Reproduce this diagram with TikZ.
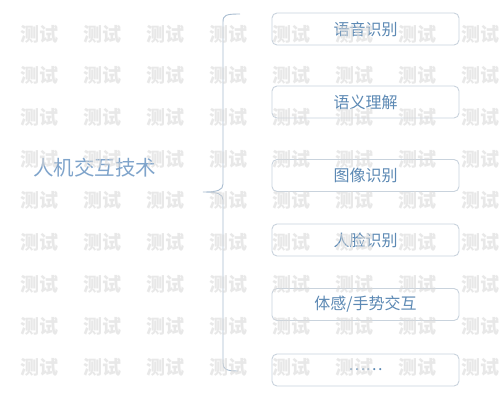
\documentclass[tikz,border=0pt]{standalone}
\usepackage{fontspec}
\setmainfont{Noto Sans CJK SC}
\definecolor{rootblue}{HTML}{7FA4CB}
\definecolor{itemblue}{HTML}{5C89B4}
\definecolor{framegray}{HTML}{C9D3DD}
\definecolor{bracegray}{HTML}{A9BDD1}
\definecolor{markgray}{HTML}{D9D9D9}
\tikzset{
  itembox/.style={draw=framegray, line width=0.9pt, rounded corners=5pt, minimum width=187pt, minimum height=32pt, inner sep=0pt, text=itemblue, font=\fontsize{16}{18}\selectfont},
  rootlabel/.style={inner sep=0pt, text=rootblue, font=\fontsize{20.5}{24}\selectfont},
  watermark/.style={inner sep=0pt, text=markgray, opacity=0.6, font=\bfseries\fontsize{19}{21}\selectfont}
}
\begin{document}
\begin{tikzpicture}[x=1pt, y=-1pt]
  \useasboundingbox[fill=white] (0,0) rectangle (499,400);

  % root
  \node[rootlabel] (root) at (95,168) {人机交互技术};

  % items
  \node[itembox] (speech) at (365.5,29) {语音识别};
  \node[itembox] (semantic) at (365.5,102) {语义理解};
  \node[itembox] (image) at (365.5,175.5) {图像识别};
  \node[itembox] (face) at (365.5,240) {人脸识别};
  \node[itembox] (gesture) at (365.5,304.5) {体感/手势交互};
  \node[itembox] (more) at (365.5,370) {……};

  % brace
  \coordinate (btop) at (240,14);
  \coordinate (btip) at (203,192);
  \coordinate (bbot) at (238,371);
  \draw[bracegray, line width=0.9pt]
    (btop) .. controls (226,14) and (223,15) .. (223,22) -- (223,184)
    .. controls (223,190) and (218,192) .. (btip)
    .. controls (218,192) and (223,194) .. (223,200) -- (223,363)
    .. controls (223,369) and (226,371) .. (bbot);

  % watermark
  \foreach \i in {0,...,7}
    \foreach \j in {0,...,8}
      \node[watermark] at (39+63*\i, 34+41.7*\j) {测试};
\end{tikzpicture}
\end{document}
